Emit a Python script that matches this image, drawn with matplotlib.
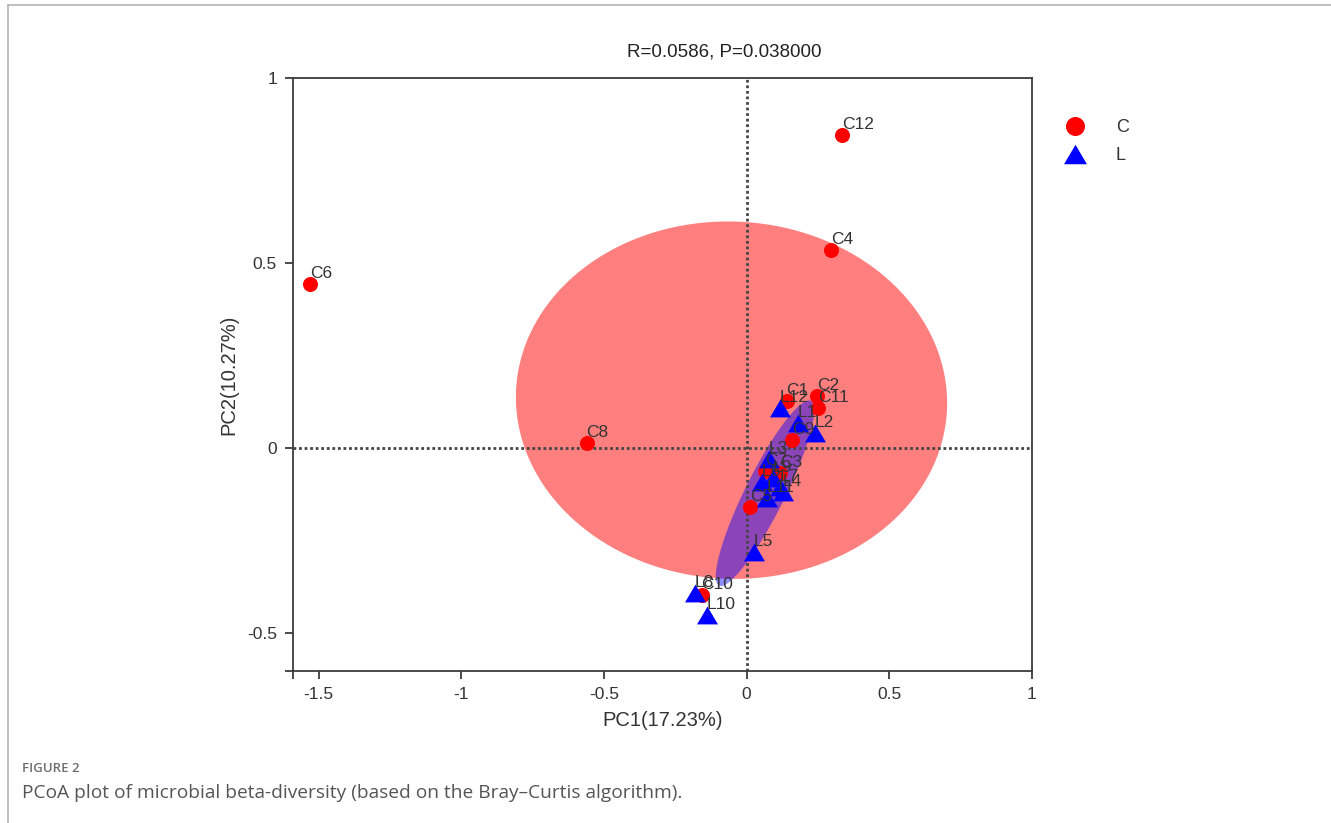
import numpy as np
import matplotlib
matplotlib.use("Agg")
import matplotlib.pyplot as plt
from matplotlib.path import Path
from matplotlib.lines import Line2D

# ---------------- data ----------------
c_labels = ["C1", "C2", "C3", "C4", "C5", "C6", "C7", "C8", "C9", "C10", "C11", "C12"]
c_pc1 = [0.140, 0.246, 0.116, 0.295, 0.011, -1.530, 0.063, -0.561, 0.158, -0.158, 0.249, 0.333]
c_pc2 = [0.127, 0.141, -0.068, 0.535, -0.159, 0.443, -0.062, 0.0135, 0.022, -0.397, 0.108, 0.846]

l_labels = ["L1", "L2", "L3", "L4", "L5", "L6", "L7", "L8", "L9", "L10", "L11", "L12"]
l_pc1 = [0.179, 0.239, 0.077, 0.126, 0.025, 0.053, 0.116, -0.182, 0.091, -0.140, 0.070, 0.116]
l_pc2 = [0.068, 0.041, -0.030, -0.119, -0.281, -0.092, -0.105, -0.392, -0.081, -0.451, -0.135, 0.108]

x_ticks = [-1.5, -1, -0.5, 0, 0.5, 1]
x_tick_labels = ["-1.5", "-1", "-0.5", "0", "0.5", "1"]
y_ticks = [-0.5, 0, 0.5, 1]
y_tick_labels = ["-0.5", "0", "0.5", "1"]

title = "R=0.0586, P=0.038000"
x_label = "PC1(17.23%)"
y_label = "PC2(10.27%)"
group_names = ["C", "L"]
caption_head = "FIGURE 2"
caption_text = "PCoA plot of microbial beta-diversity (based on the Bray\u2013Curtis algorithm)."

# ---------------- style ----------------
plt.rcParams["font.family"] = ["Liberation Sans", "DejaVu Sans"]
plt.rcParams["axes.unicode_minus"] = False
W, H = 1331, 823
fig = plt.figure(figsize=(W / 100, H / 100), dpi=100)

def fx(px):
    return px / W

def fy(py):
    return 1 - py / H

ax = fig.add_axes([fx(293), fy(671), fx(1032) - fx(293), fy(78) - fy(671)])
XLIM = (-1.59, 1.0)
YLIM = (-0.603, 1.0)
ax.set_xlim(*XLIM)
ax.set_ylim(*YLIM)

RED = "#FF0000"
BLUE = "#0000FF"
SPINE = "#3c3c3c"
TXT = "#333333"
ELLIPSE_SCALE = 1.44

tri_path = Path([(-1, -0.85), (1, -0.85), (0, 0.85), (-1, -0.85)], closed=True)


def conf_ellipse(x, y, k, n=300):
    pts = np.column_stack([x, y])
    mu = pts.mean(axis=0)
    cov = np.cov(pts.T)
    L = np.linalg.cholesky(cov)
    t = np.linspace(0, 2 * np.pi, n)
    circ = np.vstack([np.cos(t), np.sin(t)])
    e = mu[:, None] + k * (L @ circ)
    return e[0], e[1]


ex, ey = conf_ellipse(c_pc1, c_pc2, ELLIPSE_SCALE)
ax.fill(ex, ey, color=RED, alpha=0.5, lw=0, zorder=1)
ex, ey = conf_ellipse(l_pc1, l_pc2, ELLIPSE_SCALE)
ax.fill(ex, ey, color=BLUE, alpha=0.45, lw=0, zorder=1.1)

ax.axvline(0, color="#444444", lw=2.0, ls=(0, (1.0, 1.0)), zorder=2)
ax.axhline(0, color="#444444", lw=2.0, ls=(0, (1.0, 1.0)), zorder=2)

ax.scatter(c_pc1, c_pc2, s=117, marker="o", color=RED, lw=0, zorder=3)
ax.scatter(l_pc1, l_pc2, s=228, marker=tri_path, color=BLUE, lw=0, zorder=4)

for lab, x, y in zip(c_labels, c_pc1, c_pc2):
    ax.annotate(lab, (x, y), xytext=(0, 4.5), textcoords="offset points",
                ha="left", va="baseline", fontsize=12.5, color=TXT, zorder=5)
for lab, x, y in zip(l_labels, l_pc1, l_pc2):
    ax.annotate(lab, (x, y), xytext=(0, 4.5), textcoords="offset points",
                ha="left", va="baseline", fontsize=12.5, color=TXT, zorder=5)

# axes styling
for sp in ax.spines.values():
    sp.set_color(SPINE)
    sp.set_linewidth(1.3)
ax.set_xticks(x_ticks)
ax.set_xticklabels(x_tick_labels)
ax.set_yticks(y_ticks)
ax.set_yticklabels(y_tick_labels)
ax.set_xticks([XLIM[0]], minor=True)
ax.set_yticks([YLIM[0]], minor=True)
ax.tick_params(which="both", direction="out", length=5.5, width=1.3, color=SPINE,
               labelsize=12.5, labelcolor=TXT, pad=6)

fig.text(fx(724), fy(52), title, ha="center", va="center", fontsize=13.5, color="#222222")
fig.text(fx(663), fy(721), x_label, ha="center", va="center", fontsize=14.5, color=TXT)
fig.text(fx(229), fy(375), y_label, ha="center", va="center", rotation=90,
         fontsize=14.5, color=TXT)

handles = [
    Line2D([], [], ls="none", marker="o", markersize=13.7, markerfacecolor=RED,
           markeredgewidth=0),
    Line2D([], [], ls="none", marker=tri_path, markersize=16.5, markerfacecolor=BLUE,
           markeredgewidth=0),
]
ax.legend(handles, group_names, loc="upper left", bbox_to_anchor=(fx(1041), fy(103)),
          bbox_transform=fig.transFigure, frameon=False, fontsize=13,
          labelspacing=0.62, handletextpad=1.25, handlelength=2.0, labelcolor=TXT)

# page frame and caption
fig.add_artist(Line2D([fx(8), fx(1331)], [fy(5), fy(5)], color="#b4b4b4", lw=1.2))
fig.add_artist(Line2D([fx(8), fx(8)], [fy(5), fy(823)], color="#b4b4b4", lw=1.2))
fig.text(fx(22), fy(768), caption_head, ha="left", va="center", fontsize=9.5,
         color="#6e6e6e", family=["Open Sans", "DejaVu Sans"], fontweight="semibold")
fig.text(fx(22), fy(793), caption_text, ha="left", va="center", fontsize=13.8,
         color="#555555", family=["Open Sans", "DejaVu Sans"])

fig.savefig("out.png", dpi=100)
